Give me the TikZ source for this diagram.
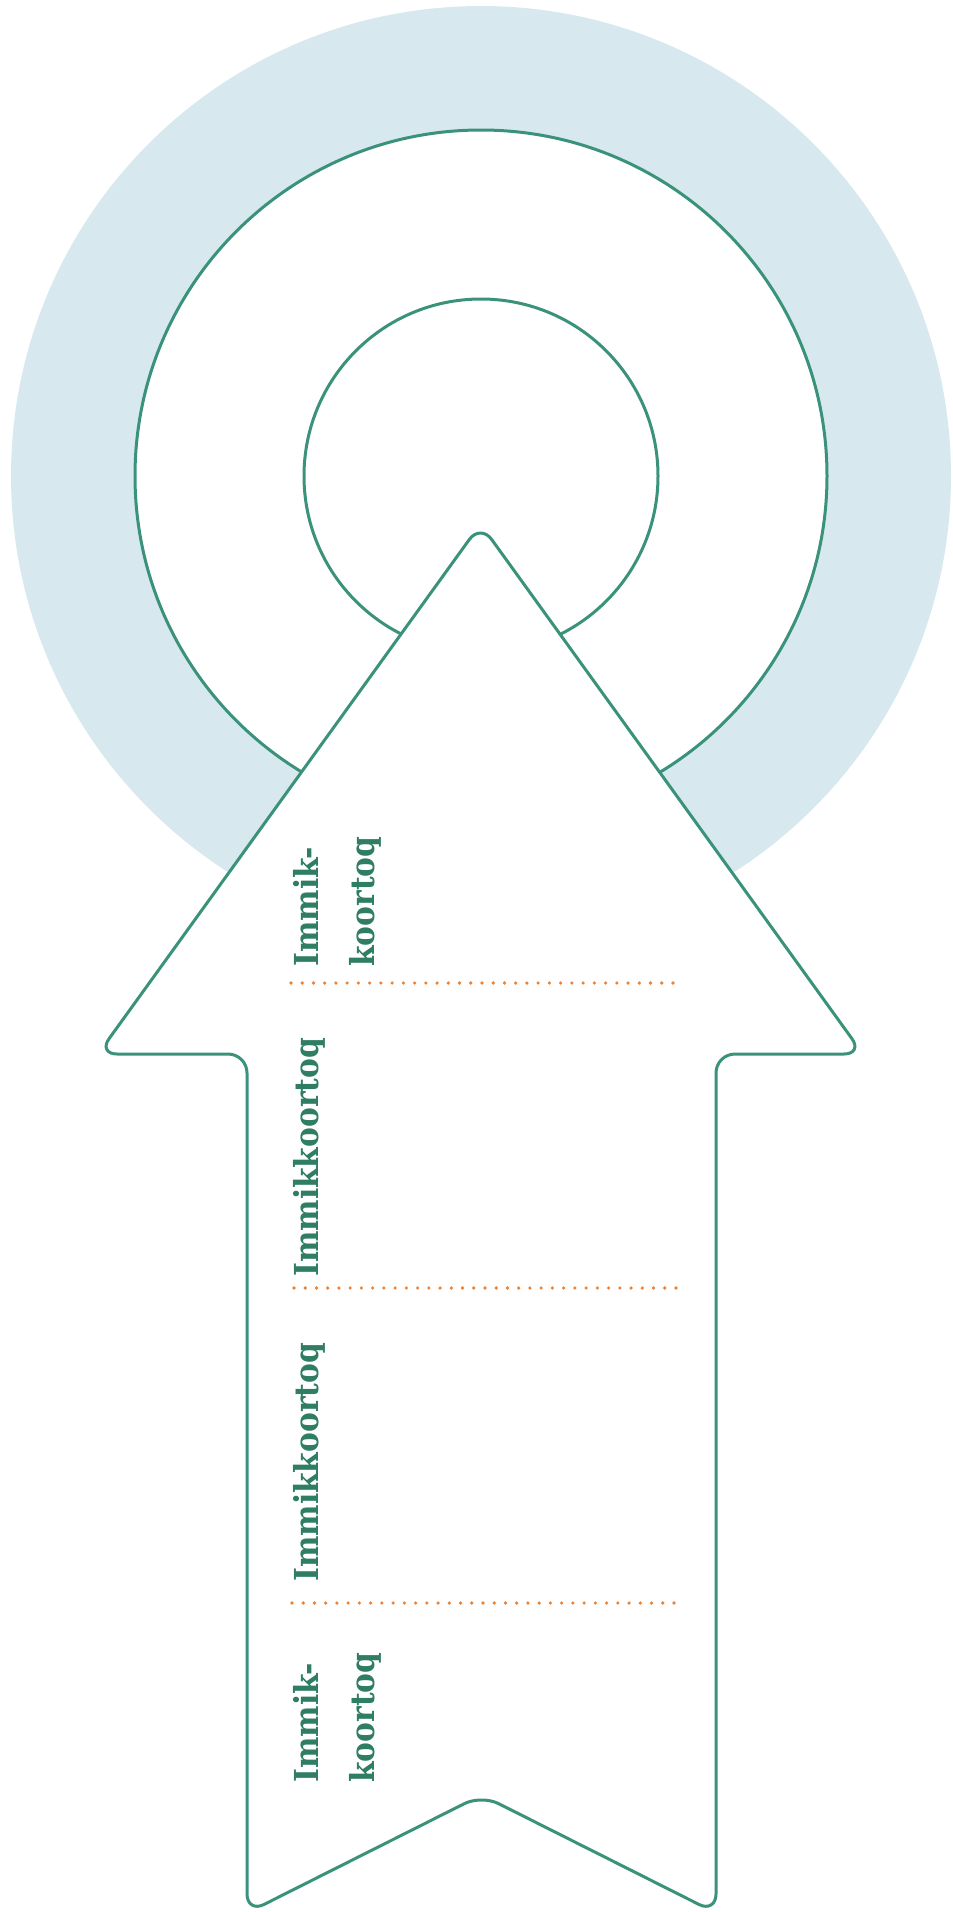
\documentclass[tikz,border=0pt]{standalone}
\usepackage{fontspec}
\newfontfamily\labelfont{DejaVuSerifCondensed-Bold}[Extension=.ttf]
\usetikzlibrary{calc}
\definecolor{ringblue}{HTML}{D7E9EF}
\definecolor{arrowgreen}{HTML}{3A927A}
\definecolor{textgreen}{HTML}{2F7D63}
\definecolor{dotorange}{HTML}{EC8236}
\tikzset{
  outline/.style={draw=arrowgreen, line width=1.5pt},
  sectionlabel/.style={font=\labelfont\fontsize{16.5}{28}\selectfont, text=textgreen, rotate=90, anchor=base west, inner sep=0pt},
  dotmark/.style={fill=dotorange, draw=none},
}
\begin{document}
\begin{tikzpicture}[x=0.5pt,y=-0.5pt]
\useasboundingbox (0,0) rectangle (953,1912);
% target circles
\coordinate (c) at (481,476);
\fill[ringblue] (c) circle (470);
\filldraw[outline, fill=white] (c) circle (346);
\draw[outline] (c) circle (177);
% arrow
\coordinate (sl) at (247,1400);
\coordinate (bl) at (247,1913);
\coordinate (notch) at (481.5,1795);
\coordinate (br) at (716,1913);
\coordinate (sr) at (716,1054);
\coordinate (barbr) at (863,1054);
\coordinate (tip) at (480.5,524);
\coordinate (barbl) at (98,1054);
\coordinate (stl) at (247,1054);
\filldraw[outline, fill=white, rounded corners=9.5pt]
  (sl) -- (bl) -- (notch) -- (br) -- (sr) -- (barbr) -- (tip) -- (barbl) -- (stl) -- cycle;
% labels
\node[sectionlabel] (l1) at (318,967) {\begin{tabular}[t]{@{}l@{}}Immik-\\koortoq\end{tabular}};
\node[sectionlabel] (l2) at (318,1277) {Immikkoortoq};
\node[sectionlabel] (l3) at (318,1582) {Immikkoortoq};
\node[sectionlabel] (l4) at (318,1783) {\begin{tabular}[t]{@{}l@{}}Immik-\\koortoq\end{tabular}};
% dotted dividers
\coordinate (d1s) at (291,983);  \coordinate (d1e) at (673,983);
\coordinate (d2s) at (294,1288); \coordinate (d2e) at (676,1288);
\coordinate (d3s) at (292,1603); \coordinate (d3e) at (674,1603);
\foreach \s/\e in {d1s/d1e, d2s/d2e, d3s/d3e}{
  \foreach \i in {0,...,34}{
    \fill[dotmark] ($(\s)!\i/34!(\e)$) circle (1.8);
  }
}
\end{tikzpicture}
\end{document}
